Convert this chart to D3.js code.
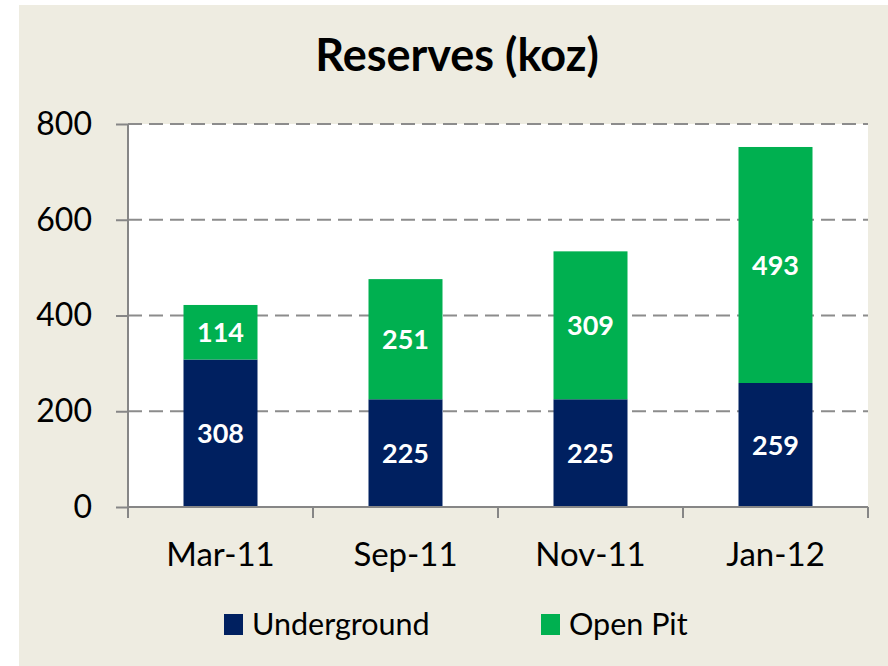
<!DOCTYPE html>
<html>
<head>
<meta charset="utf-8">
<script src="https://cdn.jsdelivr.net/npm/d3@7"></script>
<style>
  html, body { margin: 0; padding: 0; background: #ffffff; }
  svg { display: block; }
</style>
</head>
<body>
<svg id="chart" width="888" height="666"></svg>
<script>
const categories = ["Mar-11", "Sep-11", "Nov-11", "Jan-12"];
const underground = [308, 225, 225, 259];
const openPit = [114, 251, 309, 493];
const seriesNames = ["Underground", "Open Pit"];
const yTicks = [0, 200, 400, 600, 800];
const titleText = "Reserves (koz)";

const W = 888, H = 666;
const colors = { "Underground": "#002060", "Open Pit": "#00B050" };
const FONT = "Lato, 'Open Sans', sans-serif";

const svg = d3.select("#chart");

// chart-area background
svg.append("rect").attr("x", 19).attr("y", 5).attr("width", W - 19).attr("height", H - 5)
  .attr("fill", "#EEECE1");

const plot = { left: 128, right: 868, top: 124, bottom: 507 };

svg.append("rect").attr("x", plot.left).attr("y", plot.top)
  .attr("width", plot.right - plot.left).attr("height", plot.bottom - plot.top)
  .attr("fill", "#ffffff");

const x = d3.scaleBand().domain(categories).range([plot.left, plot.right]).paddingInner(0.6).paddingOuter(0.3);
const xb = d3.scaleBand().domain(categories).range([plot.left, plot.right]);
const y = d3.scaleLinear().domain([0, 800]).range([plot.bottom, plot.top]);

// gridlines
svg.append("g").selectAll("line").data(yTicks.filter(d => d > 0)).join("line")
  .attr("x1", plot.left).attr("x2", plot.right)
  .attr("y1", d => y(d)).attr("y2", d => y(d))
  .attr("stroke", "#8C8C8C").attr("stroke-width", 2).attr("stroke-dasharray", "14,7");

// stacked data
const data = categories.map((c, i) => ({ cat: c, "Underground": underground[i], "Open Pit": openPit[i] }));
const stack = d3.stack().keys(seriesNames)(data);

const layers = svg.append("g").selectAll("g").data(stack).join("g")
  .attr("fill", d => colors[d.key]);
layers.selectAll("rect").data(d => d).join("rect")
  .attr("x", d => x(d.data.cat))
  .attr("width", x.bandwidth())
  .attr("y", d => y(d[1]))
  .attr("height", d => y(d[0]) - y(d[1]));

// value labels
const labels = svg.append("g");
stack.forEach(layer => {
  layer.forEach(d => {
    labels.append("text")
      .attr("x", x(d.data.cat) + x.bandwidth() / 2)
      .attr("y", (y(d[0]) + y(d[1])) / 2)
      .attr("dy", "0.36em")
      .attr("text-anchor", "middle")
      .attr("fill", "#ffffff")
      .attr("font-family", FONT)
      .attr("font-weight", "bold")
      .attr("font-size", 27)
      .text(d[1] - d[0]);
  });
});

// y axis
const yAxis = d3.axisLeft(y).tickValues(yTicks).tickSize(12).tickPadding(24);
const gy = svg.append("g").attr("transform", `translate(${plot.left},0)`).call(yAxis);
gy.select(".domain").attr("stroke", "#868686").attr("stroke-width", 2).attr("d", `M0,${plot.top}V${plot.bottom}`);
gy.selectAll(".tick line").attr("stroke", "#868686").attr("stroke-width", 2);
gy.selectAll(".tick text").attr("font-family", FONT).attr("font-size", 32).attr("fill", "#000");

// x axis
const xAxis = d3.axisBottom(xb).tickSize(0).tickPadding(36);
const gx = svg.append("g").attr("transform", `translate(0,${plot.bottom})`).call(xAxis);
gx.select(".domain").attr("stroke", "#868686").attr("stroke-width", 2).attr("d", `M${plot.left},0H${plot.right}`);
gx.selectAll(".tick text").attr("font-family", FONT).attr("font-size", 33).attr("fill", "#000");
// category boundary ticks
const bounds = categories.map(c => xb(c)).concat([plot.right]);
gx.append("g").selectAll("line").data(bounds).join("line")
  .attr("x1", d => d).attr("x2", d => d).attr("y1", 0).attr("y2", 11)
  .attr("stroke", "#868686").attr("stroke-width", 2);

// title
svg.append("text").attr("x", 457).attr("y", 71).attr("text-anchor", "middle")
  .attr("font-family", FONT).attr("font-weight", "bold").attr("font-size", 45).attr("fill", "#000")
  .text(titleText);

// legend
const legendX = [224, 541];
const lg = svg.append("g").selectAll("g").data(seriesNames).join("g")
  .attr("transform", (d, i) => `translate(${legendX[i]},614)`);
lg.append("rect").attr("width", 19).attr("height", 21).attr("fill", d => colors[d]);
lg.append("text").attr("x", 28).attr("y", 20.5)
  .attr("font-family", FONT).attr("font-size", 30.5).attr("fill", "#000").text(d => d);
</script>
</body>
</html>
